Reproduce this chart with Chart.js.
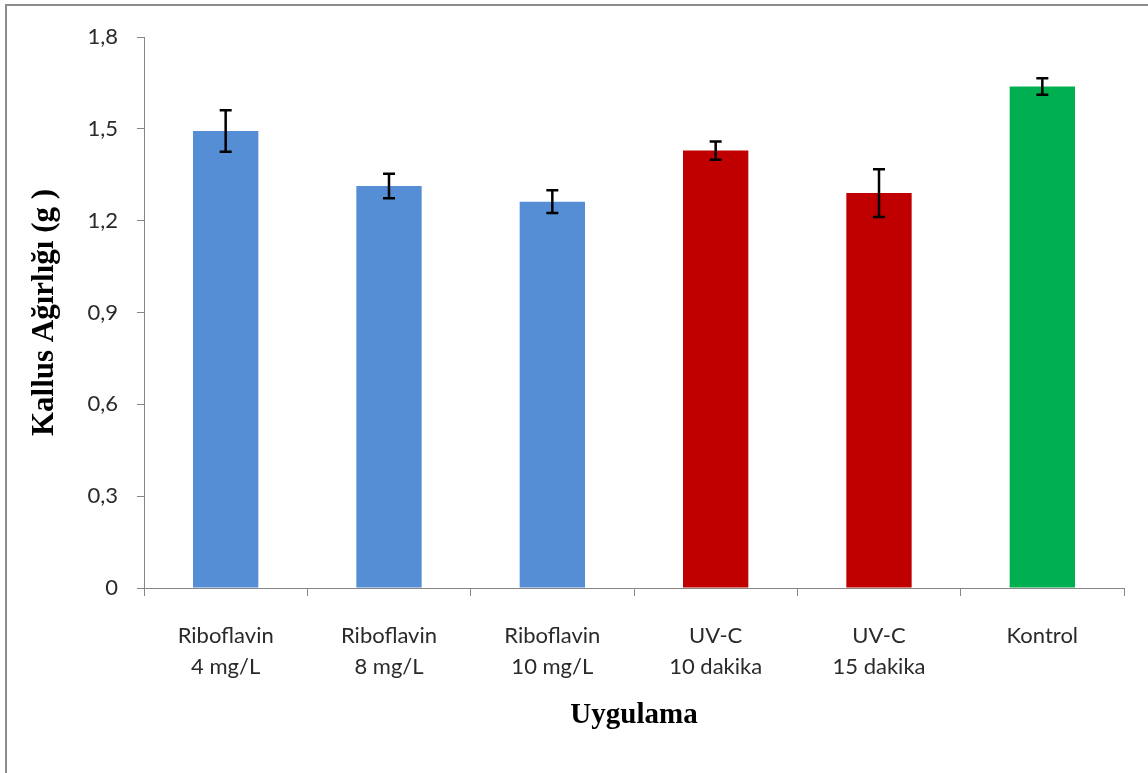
<!DOCTYPE html>
<html>
<head>
<meta charset="utf-8">
<script src="https://cdn.jsdelivr.net/npm/chart.js@4/dist/chart.umd.min.js"></script>
<style>
  html, body { margin: 0; padding: 0; background: #ffffff; }
  #wrap { position: relative; width: 1148px; height: 773px; }
</style>
</head>
<body>
<div id="wrap"><canvas id="c" width="1148" height="773"></canvas></div>
<script>
const categories = [
  ['Riboflavin', '4 mg/L'],
  ['Riboflavin', '8 mg/L'],
  ['Riboflavin', '10 mg/L'],
  ['UV-C', '10 dakika'],
  ['UV-C', '15 dakika'],
  ['Kontrol']
];
const kallusWeight = [1.493, 1.313, 1.262, 1.429, 1.290, 1.638];
const errorValues = [0.068, 0.040, 0.037, 0.030, 0.078, 0.027];
const yTickLabels = ['0', '0,3', '0,6', '0,9', '1,2', '1,5', '1,8'];
const yAxisTitle = 'Kallus Ağırlığı (g )';
const xAxisTitle = 'Uygulama';

const barColors = ['#558ED5', '#558ED5', '#558ED5', '#C00000', '#C00000', '#00B050'];

const framePlugin = {
  id: 'frame',
  beforeDraw(chart) {
    const ctx = chart.ctx;
    ctx.save();
    ctx.fillStyle = '#ffffff';
    ctx.fillRect(0, 0, chart.width, chart.height);
    ctx.strokeStyle = '#8c8c8c';
    ctx.lineWidth = 2;
    ctx.beginPath();
    ctx.moveTo(6, chart.height);
    ctx.lineTo(6, 5);
    ctx.lineTo(chart.width, 5);
    ctx.stroke();
    ctx.restore();
  }
};

const errorBarPlugin = {
  id: 'errorBars',
  afterDatasetsDraw(chart) {
    const ctx = chart.ctx;
    const xs = chart.scales.x, ys = chart.scales.y;
    ctx.save();
    ctx.strokeStyle = '#000000';
    ctx.lineWidth = 2.5;
    kallusWeight.forEach((v, i) => {
      const x = xs.getPixelForValue(i);
      const yT = ys.getPixelForValue(v + errorValues[i]);
      const yB = ys.getPixelForValue(v - errorValues[i]);
      ctx.beginPath();
      ctx.moveTo(x, yT); ctx.lineTo(x, yB);
      ctx.moveTo(x - 6, yT); ctx.lineTo(x + 6, yT);
      ctx.moveTo(x - 6, yB); ctx.lineTo(x + 6, yB);
      ctx.stroke();
    });
    ctx.restore();
  }
};

new Chart(document.getElementById('c'), {
  type: 'bar',
  data: {
    labels: categories,
    datasets: [{
      data: kallusWeight,
      backgroundColor: barColors,
      borderWidth: 0,
      categoryPercentage: 1.0,
      barPercentage: 0.4
    }]
  },
  options: {
    responsive: false,
    animation: false,
    devicePixelRatio: 1,
    layout: { padding: { left: 26, top: 37, right: 24, bottom: 40 } },
    plugins: { legend: { display: false }, tooltip: { enabled: false } },
    scales: {
      x: {
        afterFit(s) { s.height = 145; },
        grid: { display: true, drawOnChartArea: false, offset: true, tickLength: 8, color: '#868686', tickColor: '#868686' },
        border: { display: true, color: '#868686', width: 1 },
        ticks: {
          color: '#2a2a2a',
          padding: 25,
          maxRotation: 0,
          autoSkip: false,
          font: { family: 'Lato', size: 22, lineHeight: 1.4 }
        },
        title: {
          display: true,
          text: xAxisTitle,
          color: '#000000',
          padding: 0,
          font: { family: 'Liberation Serif', size: 29, weight: 'bold', lineHeight: 1.2 }
        }
      },
      y: {
        min: 0, max: 1.8,
        afterFit(s) { s.width = 118; },
        afterBuildTicks(s) {
          s.ticks = yTickLabels.map((_, i) => ({ value: i * 0.3 }));
        },
        grid: { display: true, drawOnChartArea: false, tickLength: 7, color: '#868686', tickColor: '#868686' },
        border: { display: true, color: '#868686', width: 1 },
        ticks: {
          color: '#2a2a2a',
          padding: 19,
          font: { family: 'Lato', size: 22 },
          callback: (val, idx) => yTickLabels[idx]
        },
        title: {
          display: true,
          text: yAxisTitle,
          color: '#000000',
          padding: 0,
          font: { family: 'Liberation Serif', size: 31, weight: 'bold', lineHeight: 1.2 }
        }
      }
    }
  },
  plugins: [framePlugin, errorBarPlugin]
});
</script>
</body>
</html>
